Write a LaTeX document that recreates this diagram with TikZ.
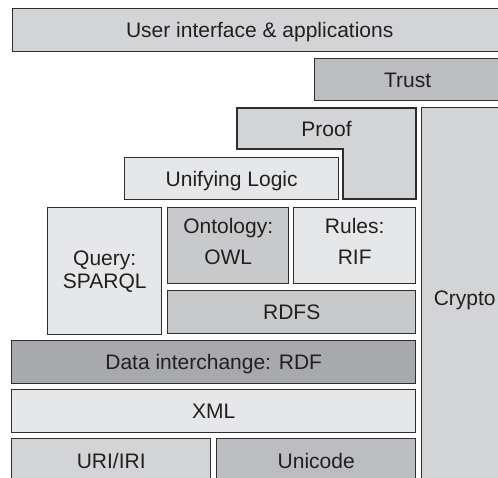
\documentclass[tikz,border=0pt]{standalone}
\usepackage{fontspec}
\setmainfont{Liberation Sans}
\definecolor{bordc}{HTML}{2E2E2E}
\definecolor{txtc}{HTML}{231F20}
\definecolor{cA}{HTML}{E6E7E8}
\definecolor{cB}{HTML}{D3D4D6}
\definecolor{cC}{HTML}{C8C9CB}
\definecolor{cD}{HTML}{BCBDC0}
\definecolor{cE}{HTML}{A8A9AC}
\begin{document}
\begin{tikzpicture}[x=1pt,y=-1pt,
  box/.style={draw=bordc, line width=1.4pt, text=txtc, font=\fontsize{21}{23}\selectfont,
    align=center, inner sep=0pt, anchor=north west},
  one/.style={text height=15pt, text depth=0pt},
  txt/.style={text=txtc, font=\fontsize{21}{23}\selectfont, align=center, inner sep=0pt}]
\useasboundingbox (0,0) rectangle (498,477);
\clip (0,0) rectangle (498,477);
\node[box, one, fill=cB, minimum width=494pt, minimum height=43pt] (ui) at (12,8) {User interface \& applications};
\node[box, one, fill=cD, minimum width=186pt, minimum height=42pt] (trust) at (314,58) {Trust};
\draw[draw=bordc, line width=1.4pt, fill=cB] (237,108) -- (416,108) -- (416,199) -- (343,199) -- (343,149) -- (237,149) -- cycle;
\node[txt, one] (proof) at (326.5,128.5) {Proof};
\node[box, one, fill=cB, minimum width=86pt, minimum height=380pt] (crypto) at (421,107) {Crypto};
\node[box, one, fill=cA, minimum width=214pt, minimum height=42pt] (unify) at (124,157) {Unifying Logic};
\node[box, fill=cA, minimum width=114pt, minimum height=127pt] (query) at (47,207) {Query:\\SPARQL};
\node[box, fill=cC, minimum width=121pt, minimum height=76pt] (onto) at (167,207) {};
\node[txt, font=\fontsize{21}{31}\selectfont] (ontot) at ([yshift=4pt]onto.center) {Ontology:\\OWL};
\node[box, fill=cA, minimum width=122pt, minimum height=76pt] (rules) at (293,207) {};
\node[txt, font=\fontsize{21}{31}\selectfont] (rulest) at ([yshift=4pt]rules.center) {Rules:\\RIF};
\node[box, one, fill=cC, minimum width=248pt, minimum height=43pt] (rdfs) at (167,290) {RDFS};
\node[box, one, fill=cE, minimum width=404pt, minimum height=43pt] (rdf) at (11,340) {Data interchange: RDF};
\node[box, one, fill=cA, minimum width=404pt, minimum height=43pt] (xml) at (11,389) {XML};
\node[box, one, fill=cB, minimum width=199pt, minimum height=45pt] (uri) at (11,438) {URI/IRI};
\node[box, one, fill=cD, minimum width=199pt, minimum height=45pt] (unicode) at (216,438) {Unicode};
\end{tikzpicture}
\end{document}
